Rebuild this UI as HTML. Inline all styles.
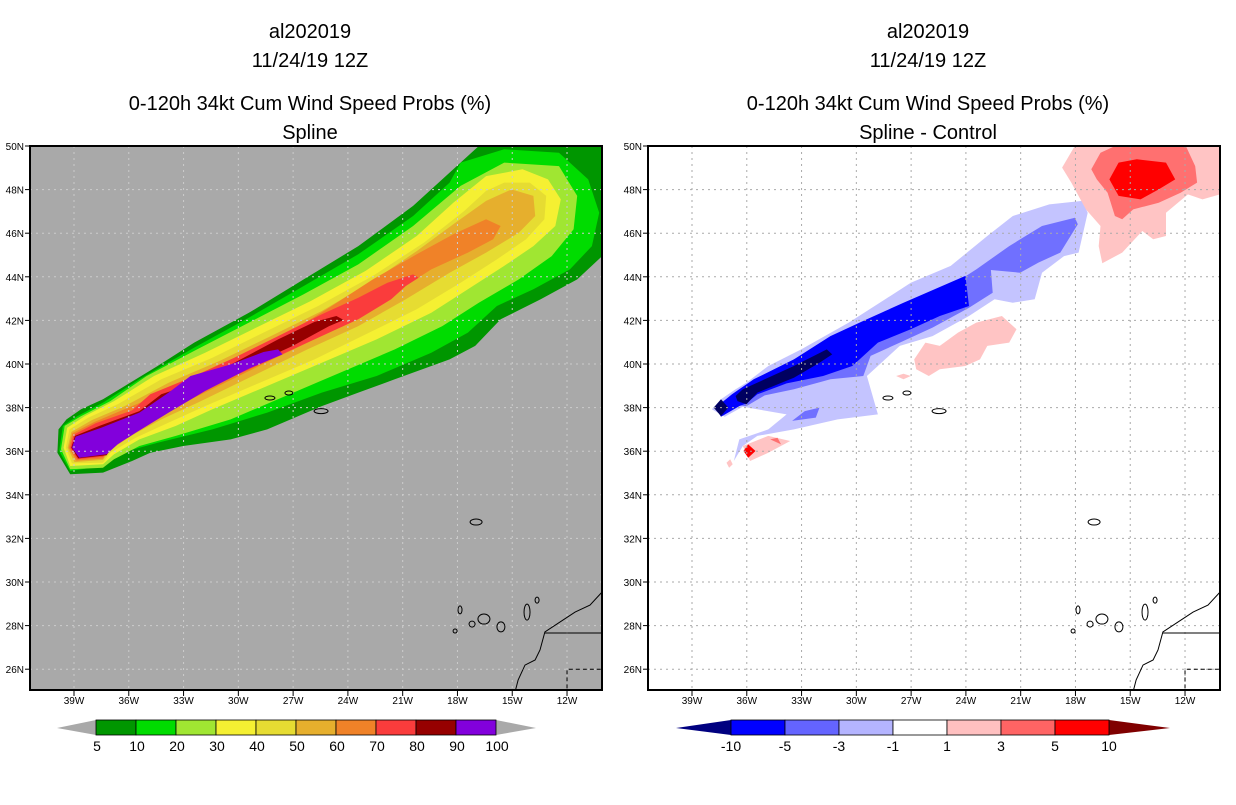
<!DOCTYPE html>
<html><head><meta charset="utf-8">
<style>
body{margin:0;background:#fff;}
svg text{font-family:"Liberation Sans",sans-serif;}
</style></head>
<body>
<svg id="s" width="1236" height="800" xmlns="http://www.w3.org/2000/svg">
<defs>
<clipPath id="c0"><rect x="30" y="146" width="572" height="544"/></clipPath>
<clipPath id="c1"><rect x="648" y="146" width="572" height="544"/></clipPath>
</defs>
<g font-size="20" text-anchor="middle" fill="#000">
<text x="310" y="38">al202019</text>
<text x="310" y="67">11/24/19 12Z</text>
<text x="310" y="110">0-120h 34kt Cum Wind Speed Probs (%)</text>
<text x="310" y="139">Spline</text>
<text x="928" y="38">al202019</text>
<text x="928" y="67">11/24/19 12Z</text>
<text x="928" y="110">0-120h 34kt Cum Wind Speed Probs (%)</text>
<text x="928" y="139">Spline - Control</text>
</g>
<rect x="30" y="146" width="572" height="544" fill="#a9a9a9"/>
<rect x="648" y="146" width="572" height="544" fill="#fff"/>
<g id="L" clip-path="url(#c0)"></g>
<g id="R" clip-path="url(#c1)"></g>
<g id="ax"></g>
<g id="cb"></g>
</svg>
<script>
// Axis ticks
const lonTicks=[-39,-36,-33,-30,-27,-24,-21,-18,-15,-12];
const lonLabels=["39W","36W","33W","30W","27W","24W","21W","18W","15W","12W"];
const latTicks=[26,28,30,32,34,36,38,40,42,44,46,48,50];
const latLabels=["26N","28N","30N","32N","34N","36N","38N","40N","42N","44N","46N","48N","50N"];
// Left panel: probability contour levels (lower bound) and their regions [lon,lat]
const probLevels=[5,10,20,30,40,50,60,70,80,90];
const probColors=["#009600","#00dc00","#a0e632","#f5f032","#e6dc32","#e6af2d","#f08228","#fa3c3c","#960000","#8200dc"];
const probBarLabels=["5","10","20","30","40","50","60","70","80","90","100"];
const p5=[[-39.85,37.0],[-39.41,37.46],[-38.61,37.92],[-37.41,38.38],[-36.22,38.99],[-34.42,39.91],[-32.42,40.98],[-29.42,42.35],[-26.42,43.88],[-23.43,45.41],[-20.43,47.25],[-18.43,48.78],[-16.83,50.0],[-16.5,50.5],[-9,50.5],[-9,45.3],[-10.08,44.95],[-11.44,43.88],[-13.44,42.97],[-15.63,42.05],[-17.03,40.83],[-18.43,40.21],[-21.43,39.30],[-23.43,38.69],[-25.43,38.07],[-28.42,37.0],[-30.42,36.54],[-33.02,36.24],[-34.82,35.93],[-35.82,35.55],[-37.41,35.02],[-39.21,34.94],[-39.91,35.93]];
const p10=[[-17.83,49.24],[-15.44,49.85],[-12.44,49.69],[-10.84,48.47],[-10.24,46.94],[-10.64,45.41],[-11.84,44.34],[-13.84,43.43],[-15.84,42.66],[-17.43,41.44],[-19.43,40.52],[-22.43,39.45],[-25.43,38.69],[-28.42,37.77],[-31.42,37.0],[-34.42,36.39],[-36.41,35.93],[-37.41,35.32],[-39.21,35.09],[-39.81,36.01],[-39.61,37.16],[-38.81,37.61],[-37.41,38.23],[-35.42,39.30],[-32.42,40.75],[-29.42,42.13],[-26.42,43.58],[-23.43,45.03],[-20.43,46.79],[-18.43,48.32]];
const p20=[[-15.44,49.24],[-12.44,49.08],[-11.44,47.71],[-11.64,46.18],[-12.84,44.95],[-14.64,43.88],[-16.83,42.81],[-18.83,41.74],[-21.43,40.67],[-24.43,39.60],[-27.42,38.53],[-30.42,37.46],[-33.42,36.70],[-35.42,36.24],[-36.81,35.63],[-37.41,35.24],[-39.21,35.17],[-39.71,36.09],[-39.51,37.16],[-38.61,37.61],[-37.01,38.30],[-35.02,39.45],[-32.42,40.60],[-29.42,41.90],[-26.42,43.20],[-23.43,44.57],[-20.43,46.33],[-17.83,48.17]];
const p30=[[-16.43,48.62],[-14.44,48.93],[-13.04,48.47],[-12.34,47.55],[-12.64,46.33],[-13.84,45.41],[-15.44,44.50],[-17.43,43.43],[-19.43,42.35],[-22.43,41.13],[-25.43,40.06],[-28.42,38.99],[-31.42,37.92],[-33.42,37.16],[-35.42,36.54],[-36.81,35.86],[-37.41,35.40],[-39.21,35.32],[-39.57,36.16],[-39.37,37.08],[-38.41,37.61],[-36.81,38.30],[-34.62,39.45],[-31.82,40.52],[-29.02,41.67],[-26.03,42.89],[-23.03,44.27],[-20.23,45.87],[-18.23,47.40]];
const p40=[[-15.44,48.32],[-14.04,48.32],[-13.14,47.71],[-13.24,46.64],[-14.24,45.72],[-15.84,44.80],[-17.83,43.73],[-20.23,42.51],[-23.03,41.36],[-25.83,40.21],[-29.02,39.07],[-31.82,38.07],[-33.82,37.31],[-35.62,36.62],[-37.01,35.93],[-37.41,35.47],[-39.11,35.44],[-39.45,36.16],[-39.25,37.0],[-38.21,37.54],[-36.61,38.15],[-34.22,39.30],[-31.42,40.29],[-28.62,41.44],[-25.63,42.66],[-22.63,44.04],[-19.83,45.57],[-17.63,47.02],[-16.43,47.94]];
const p50=[[-15.04,48.01],[-13.84,47.71],[-13.74,46.79],[-14.64,46.02],[-16.43,45.11],[-18.43,44.19],[-20.83,42.97],[-23.43,41.74],[-26.22,40.67],[-29.22,39.45],[-32.22,38.23],[-34.22,37.46],[-35.82,36.73],[-37.01,36.06],[-37.41,35.60],[-38.97,35.50],[-39.35,36.16],[-39.15,36.88],[-38.01,37.43],[-36.22,38.07],[-33.82,39.14],[-31.02,40.14],[-28.22,41.28],[-25.43,42.43],[-22.63,43.81],[-20.23,45.18],[-18.23,46.41],[-16.43,47.48]];
const p60=[[-16.43,46.64],[-15.64,46.33],[-16.04,45.72],[-17.43,45.11],[-19.43,44.34],[-21.43,43.27],[-23.43,42.20],[-26.22,40.98],[-29.22,39.76],[-32.22,38.53],[-34.22,37.69],[-35.82,36.88],[-37.01,36.21],[-37.41,35.66],[-38.87,35.57],[-39.29,36.16],[-39.09,36.82],[-37.89,37.34],[-36.02,38.0],[-33.42,38.91],[-30.62,39.98],[-27.82,41.13],[-25.03,42.58],[-22.63,43.88],[-20.23,45.03],[-18.23,45.95]];
const p70=[[-20.43,44.11],[-20.13,43.96],[-20.83,43.58],[-21.63,42.97],[-23.43,42.05],[-25.83,41.13],[-28.62,40.06],[-31.42,38.99],[-33.42,38.07],[-35.42,37.16],[-36.81,36.35],[-37.41,35.75],[-38.81,35.63],[-39.21,36.16],[-39.01,36.76],[-37.81,37.28],[-35.82,37.87],[-34.82,38.61],[-32.62,39.37],[-30.22,40.29],[-27.82,41.28],[-25.43,42.28],[-23.43,43.04],[-21.83,43.73]];
const p80=[[-24.63,42.20],[-24.23,42.02],[-25.03,41.74],[-27.02,40.83],[-29.42,39.91],[-31.82,38.99],[-33.82,37.92],[-35.62,37.0],[-36.81,36.39],[-37.21,35.81],[-38.77,35.67],[-39.15,36.16],[-38.95,36.70],[-37.61,37.16],[-35.42,37.84],[-34.22,38.61],[-32.22,39.17],[-30.22,40.06],[-27.82,41.13],[-25.83,41.93]];
const p90=[[-27.82,40.67],[-27.58,40.44],[-29.42,39.79],[-31.82,38.76],[-33.82,37.77],[-35.62,36.85],[-36.61,36.31],[-37.21,35.86],[-38.71,35.70],[-39.11,36.16],[-38.91,36.67],[-37.51,37.08],[-35.42,37.77],[-33.82,38.69],[-32.62,39.45],[-30.42,39.98],[-28.62,40.55]];
const probRegions=[p5,p10,p20,p30,p40,p50,p60,p70,p80,p90];
// Right panel: difference regions and their class values
const dLight=[[-37.91,37.92],[-37.41,38.38],[-36.61,38.84],[-36.02,39.14],[-34.82,39.91],[-33.02,40.67],[-30.42,41.90],[-28.42,42.97],[-27.02,43.73],[-24.83,44.50],[-22.83,45.87],[-21.43,46.79],[-19.43,47.32],[-17.63,47.48],[-17.33,46.94],[-17.83,45.11],[-18.63,44.95],[-19.83,44.19],[-20.23,42.97],[-21.43,42.81],[-22.43,42.97],[-23.83,42.20],[-25.83,41.28],[-27.62,40.83],[-29.42,39.45],[-28.82,37.69],[-31.02,37.46],[-33.42,37.0],[-35.42,36.70],[-36.22,36.24],[-36.71,35.55],[-36.41,36.54],[-34.82,37.0],[-33.82,37.69],[-36.22,38.04],[-37.21,37.58]];
const dMed=[[-37.81,38.0],[-36.81,38.53],[-35.82,39.14],[-33.42,40.21],[-30.42,41.44],[-28.42,42.43],[-25.43,43.27],[-23.43,44.34],[-21.63,45.41],[-19.83,46.33],[-18.03,46.71],[-17.87,46.41],[-18.83,45.11],[-20.03,44.65],[-21.03,44.19],[-22.63,44.31],[-22.53,43.27],[-23.83,42.58],[-25.83,41.67],[-27.62,40.98],[-29.22,40.37],[-29.62,39.45],[-31.42,39.30],[-33.42,38.84],[-35.02,38.56],[-36.02,38.07],[-36.71,38.12]];
const dMed2=[[-33.52,37.39],[-32.82,37.84],[-32.02,38.0],[-32.22,37.54]];
const dBlue=[[-37.71,38.0],[-36.81,38.61],[-35.62,39.30],[-33.42,40.21],[-31.42,41.28],[-29.42,42.05],[-27.42,42.81],[-24.03,44.04],[-23.83,42.66],[-25.43,42.20],[-27.02,41.59],[-28.82,40.98],[-30.22,39.91],[-31.82,39.45],[-33.82,39.11],[-35.42,38.61],[-36.02,38.20],[-36.41,38.07],[-37.41,37.58]];
const dNavy1=[[-37.81,38.0],[-37.41,38.38],[-37.01,38.0],[-37.41,37.61]];
const dNavy2=[[-36.61,38.53],[-36.22,38.84],[-33.42,39.91],[-31.62,40.67],[-31.32,40.44],[-32.02,40.06],[-33.42,39.37],[-35.42,38.69],[-36.02,38.15],[-36.51,38.30]];
const dPinkNE=[[-18.73,49.01],[-17.93,50.15],[-9.44,50.15],[-9.44,47.94],[-11.04,47.55],[-11.84,47.78],[-13.04,46.94],[-13.04,45.87],[-13.74,45.72],[-14.34,46.10],[-15.44,45.11],[-16.53,44.62],[-16.73,45.41],[-16.63,46.33],[-17.43,47.09],[-18.23,48.32]];
const dSalmonNE=[[-17.13,48.93],[-16.63,49.69],[-15.44,50.15],[-12.04,50.15],[-11.44,49.08],[-11.34,48.32],[-12.24,47.86],[-13.44,47.40],[-14.84,47.09],[-15.44,46.64],[-15.84,46.79],[-16.24,47.86],[-16.83,48.47]];
const dRedNE=[[-16.14,48.47],[-15.64,49.24],[-14.64,49.39],[-13.04,49.24],[-12.54,48.47],[-13.44,48.01],[-14.44,47.55],[-15.64,47.71]];
const dPinkMid=[[-26.83,40.21],[-26.22,40.98],[-25.43,40.83],[-24.43,41.44],[-23.43,41.90],[-22.03,42.20],[-21.23,41.59],[-21.63,40.98],[-22.83,40.83],[-23.23,40.21],[-24.03,39.91],[-25.43,39.76],[-26.03,39.45],[-26.72,39.76]];
const dPinkSmall=[[-27.82,39.45],[-27.42,39.55],[-27.02,39.45],[-27.42,39.30]];
const dPinkSW=[[-36.22,36.24],[-34.82,36.70],[-33.62,36.47],[-34.82,35.93],[-35.82,35.55]];
const dSalmonSW=[[-34.72,36.54],[-34.32,36.62],[-34.12,36.31]];
const dRedSW=[[-36.18,36.01],[-35.92,36.31],[-35.52,36.01],[-35.92,35.70]];
const dPinkSW2=[[-37.11,35.47],[-36.91,35.63],[-36.77,35.40],[-36.97,35.24]];
const diffRegions=[dLight,dMed,dMed2,dBlue,dNavy1,dNavy2,dPinkNE,dSalmonNE,dRedNE,dPinkMid,dPinkSmall,dPinkSW,dSalmonSW,dRedSW,dPinkSW2];
const diffClass=[-2,-4,-4,-7,-12,-12,2,4,7,2,2,2,4,7,2];
const diffBarLabels=["-10","-5","-3","-1","1","3","5","10"];
const diffColors=["#0000ff","#6464ff","#b4b4ff","#ffffff","#ffc0c0","#ff6464","#ff0000"];

const NS="http://www.w3.org/2000/svg";
function xs(lon,off){return 74+(lon+39)*18.26+off;}
function ys(lat){return 146+(50-lat)*21.8;}
function mk(tag,at,parent){const e=document.createElementNS(NS,tag);for(const k in at)e.setAttribute(k,at[k]);parent.appendChild(e);return e;}
function pts(reg,off){return reg.map(p=>xs(p[0],off).toFixed(1)+","+ys(p[1]).toFixed(1)).join(" ");}
const L=document.getElementById('L'),R=document.getElementById('R');
probLevels.forEach((lv,i)=>{
  const p=mk('polygon',{points:pts(probRegions[i],0),fill:probColors[i]},L);
  
  
});
function diffColor(v){
  if(v<-10)return "#000060";if(v<-5)return "#0000ff";if(v<-3)return "#7070ff";if(v<-1)return "#c4c4ff";
  if(v>10)return "#800000";if(v>5)return "#ff0000";if(v>3)return "#ff7070";if(v>1)return "#ffc4c4";return "#fff";
}
diffClass.forEach((v,i)=>{
  const p=mk('polygon',{points:pts(diffRegions[i],618),fill:diffColor(v)},R);
  
  
});
// geography
const coast=[[-10.08,29.54],[-10.74,28.94],[-11.56,28.62],[-12.38,28.17],[-13.21,27.71],[-13.48,26.88],[-13.75,26.42],[-14.3,26.19],[-14.68,25.5],[-14.85,24.95]];
const islands=[[-28.27,38.44,5,2],[-27.23,38.67,4,2],[-25.47,37.84,7,2.5],[-16.98,32.75,6,3],[-17.86,28.72,2,4],[-18.13,27.75,2,2],[-17.2,28.07,3,3],[-16.55,28.3,6,5],[-15.62,27.94,4,5],[-14.19,28.62,3,8],[-13.64,29.17,2,3]];
[[L,0],[R,618]].forEach(([g,off])=>{
  lonTicks.forEach(l=>{const e=mk('line',{x1:xs(l,off),x2:xs(l,off),y1:146,y2:690,stroke:off?"#aaa":"#ccc","stroke-dasharray":"2,4"},g);
    });
  latTicks.forEach(l=>{const e=mk('line',{x1:30+off,x2:602+off,y1:ys(l),y2:ys(l),stroke:off?"#aaa":"#ccc","stroke-dasharray":"2,4"},g);
    });
  const c=mk('polyline',{points:pts(coast,off),fill:"none",stroke:"#000"},g);
  
  const b=mk('line',{x1:xs(-13.21,off),x2:xs(-10,off),y1:ys(27.66),y2:ys(27.66),stroke:"#000"},g);
  
  const d=mk('polyline',{points:xs(-9,off)+","+ys(26)+" "+xs(-12,off)+","+ys(26)+" "+xs(-12,off)+","+ys(24.5),fill:"none",stroke:"#000","stroke-dasharray":"4,3"},g);
  
  islands.forEach(s=>{const e=mk('ellipse',{cx:xs(s[0],off),cy:ys(s[1]),rx:s[2],ry:s[3],fill:"none",stroke:"#000"},g);
    });
});
// axes frame & labels
const ax=document.getElementById('ax');
[0,618].forEach(off=>{
  const f=mk('rect',{x:30+off,y:146,width:572,height:544,fill:"none",stroke:"#000","stroke-width":2},ax);
  
  lonTicks.forEach((l,i)=>{
    const t=mk('line',{x1:xs(l,off),x2:xs(l,off),y1:690,y2:696,stroke:"#000"},ax);
    
    const tx=mk('text',{x:xs(l,off),y:704,"font-size":10,"text-anchor":"middle"},ax);tx.textContent=lonLabels[i];
    
  });
  latTicks.forEach((l,i)=>{
    const t=mk('line',{x1:25+off,x2:30+off,y1:ys(l),y2:ys(l),stroke:"#000"},ax);
    
    const tx=mk('text',{x:24+off,y:ys(l)+4,"font-size":10,"text-anchor":"end"},ax);tx.textContent=latLabels[i];
    
  });
});
// colorbars
const cb=document.getElementById('cb');
let e=mk('polygon',{points:"57,728 96,720 96,735",fill:"#a9a9a9"},cb);

e=mk('polygon',{points:"536,728 496,720 496,735",fill:"#a9a9a9"},cb);

probColors.forEach((c,i)=>{
  const r=mk('rect',{x:96+i*40,y:720,width:40,height:15,fill:c,stroke:"#000","stroke-width":0.8},cb);
  
});
probBarLabels.forEach((t,i)=>{const x=mk('text',{x:97+i*40,y:751,"font-size":14,"text-anchor":"middle"},cb);x.textContent=t;
  });
e=mk('polygon',{points:"676,728 731,720 731,735",fill:"#000080"},cb);

e=mk('polygon',{points:"1170,728 1109,720 1109,735",fill:"#800000"},cb);

diffColors.forEach((c,i)=>{
  const r=mk('rect',{x:731+i*54,y:720,width:54,height:15,fill:c,stroke:"#000","stroke-width":0.8},cb);
  
});
diffBarLabels.forEach((t,i)=>{const x=mk('text',{x:731+i*54,y:751,"font-size":14,"text-anchor":"middle"},cb);x.textContent=t;
  });
</script>
</body></html>
